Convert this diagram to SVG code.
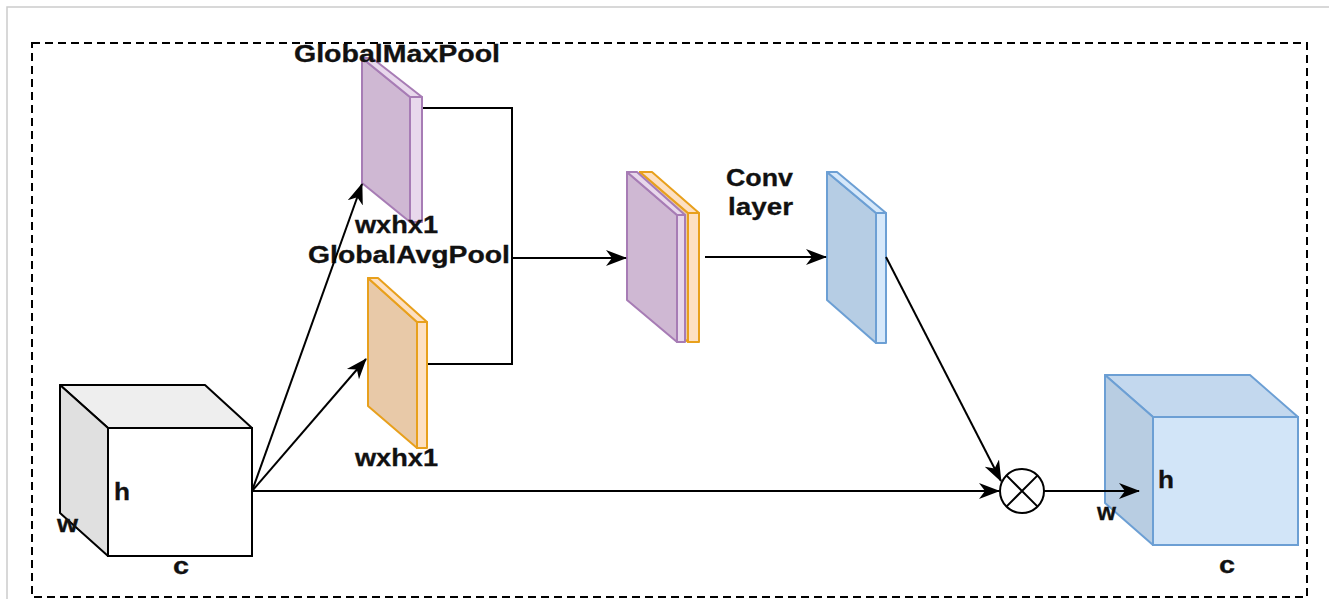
<svg xmlns="http://www.w3.org/2000/svg" width="1329" height="599" viewBox="0 0 1329 599">
<style>
.t{font-family:"Liberation Sans",Arial,sans-serif;font-weight:bold;font-size:23px;fill:#111;stroke:#111;stroke-width:0.3}
.ln{stroke:#000;stroke-width:2;fill:none}
.pm{fill:#cfb8d3;stroke:#a77cb5;stroke-width:2;stroke-linejoin:round}
.ps{fill:#e8d8ec;stroke:#a77cb5;stroke-width:2;stroke-linejoin:round}
.om{fill:#e8c9a8;stroke:#e8a01c;stroke-width:2;stroke-linejoin:round}
.os{fill:#fde0c2;stroke:#e8a01c;stroke-width:2;stroke-linejoin:round}
.bm{fill:#b6cde4;stroke:#6c9fd4;stroke-width:2;stroke-linejoin:round}
.bs{fill:#d6e8fa;stroke:#6c9fd4;stroke-width:2;stroke-linejoin:round}
</style>
<defs>
<marker id="ar" markerUnits="userSpaceOnUse" viewBox="0 0 22 18" markerWidth="22" markerHeight="18" refX="20" refY="9" orient="auto">
<path d="M0,1 L21,9 L0,17 L6,9 z" fill="#000"/>
</marker>
</defs>
<rect width="1329" height="599" fill="#fff"/>
<path d="M7,599 V7 H1329" fill="none" stroke="#cccccc" stroke-width="1.5"/>
<rect x="32" y="43" width="1275" height="554" fill="none" stroke="#000" stroke-width="2" stroke-dasharray="8,5"/>

<g id="input-cube">
<polygon points="60,385 205,385 252,428 108,428" fill="#eeeeee" stroke="#000" stroke-width="2" stroke-linejoin="round"/>
<polygon points="60,385 108,428 108,556 60,513" fill="#e0e0e0" stroke="#000" stroke-width="2" stroke-linejoin="round"/>
<rect x="108" y="428" width="144" height="128" fill="#fff" stroke="#000" stroke-width="2"/>
<text class="t" x="114" y="500" textLength="16" lengthAdjust="spacingAndGlyphs">h</text>
<text class="t" x="57" y="532" textLength="21" lengthAdjust="spacingAndGlyphs">w</text>
<text class="t" x="173" y="574" textLength="16" lengthAdjust="spacingAndGlyphs">c</text>
</g>

<g id="maxpool">
<polygon class="pm" points="362,58 410,97 410,222 362,183"/>
<polygon class="ps" points="362,58 372,58 422,97 410,97"/>
<rect class="ps" x="410" y="97" width="12" height="125"/>
<text class="t" x="294" y="62" textLength="206" lengthAdjust="spacingAndGlyphs">GlobalMaxPool</text>
<text class="t" x="355" y="233" textLength="83" lengthAdjust="spacingAndGlyphs">wxhx1</text>
</g>

<g id="avgpool">
<polygon class="om" points="368,278 417,322 417,448 368,406"/>
<polygon class="os" points="368,278 378,278 427,322 417,322"/>
<rect class="os" x="417" y="322" width="10" height="126"/>
<text class="t" x="308" y="263" textLength="202" lengthAdjust="spacingAndGlyphs">GlobalAvgPool</text>
<text class="t" x="355" y="466" textLength="83" lengthAdjust="spacingAndGlyphs">wxhx1</text>
</g>

<g id="concat">
<polygon class="om" points="640,172 688,213 688,342 640,300"/>
<polygon class="os" points="640,172 652,172 699,213 688,213"/>
<rect class="os" x="688" y="213" width="11" height="129"/>
<polygon class="pm" points="627,172 677,215 677,342 627,300"/>
<polygon class="ps" points="627,172 637,172 685,215 677,215"/>
<rect class="ps" x="677" y="215" width="8" height="127"/>
</g>

<g id="conv">
<polygon class="bm" points="827,172 876,213 876,343 827,300"/>
<polygon class="bs" points="827,172 837,172 886,213 876,213"/>
<rect class="bs" x="876" y="213" width="10" height="130"/>
<text class="t" x="726" y="186" textLength="67" lengthAdjust="spacingAndGlyphs">Conv</text>
<text class="t" x="728" y="215" textLength="65" lengthAdjust="spacingAndGlyphs">layer</text>
</g>

<g id="multiply">
<circle cx="1022" cy="491" r="22" fill="#fff" stroke="#000" stroke-width="2"/>
<path d="M1006.4,475.4 L1037.6,506.6 M1037.6,475.4 L1006.4,506.6" stroke="#000" stroke-width="2"/>
</g>

<g id="output-cube">
<polygon points="1105,375 1250,375 1298,417 1153,417" fill="#c3d8ee" stroke="#6c9fd4" stroke-width="2" stroke-linejoin="round"/>
<polygon points="1105,375 1153,417 1153,545 1105,503" fill="#b8cde2" stroke="#6c9fd4" stroke-width="2" stroke-linejoin="round"/>
<rect x="1153" y="417" width="145" height="128" fill="#d2e5f8" stroke="#6c9fd4" stroke-width="2"/>
<text class="t" x="1158" y="488" textLength="16" lengthAdjust="spacingAndGlyphs">h</text>
<text class="t" x="1097" y="520" textLength="19" lengthAdjust="spacingAndGlyphs">w</text>
<text class="t" x="1219" y="573" textLength="16" lengthAdjust="spacingAndGlyphs">c</text>
</g>

<g id="connectors">
<path class="ln" d="M252,491 L362,184" marker-end="url(#ar)"/>
<path class="ln" d="M252,491 L366,359" marker-end="url(#ar)"/>
<path class="ln" d="M252,491 L999,491" marker-end="url(#ar)"/>
<path class="ln" d="M423,108 H512 V364 H428"/>
<path class="ln" d="M512,258 H626" marker-end="url(#ar)"/>
<path class="ln" d="M705,257 H826" marker-end="url(#ar)"/>
<path class="ln" d="M886,257 L1001,481" marker-end="url(#ar)"/>
<path class="ln" d="M1044,491 H1139" marker-end="url(#ar)"/>
</g>
</svg>
